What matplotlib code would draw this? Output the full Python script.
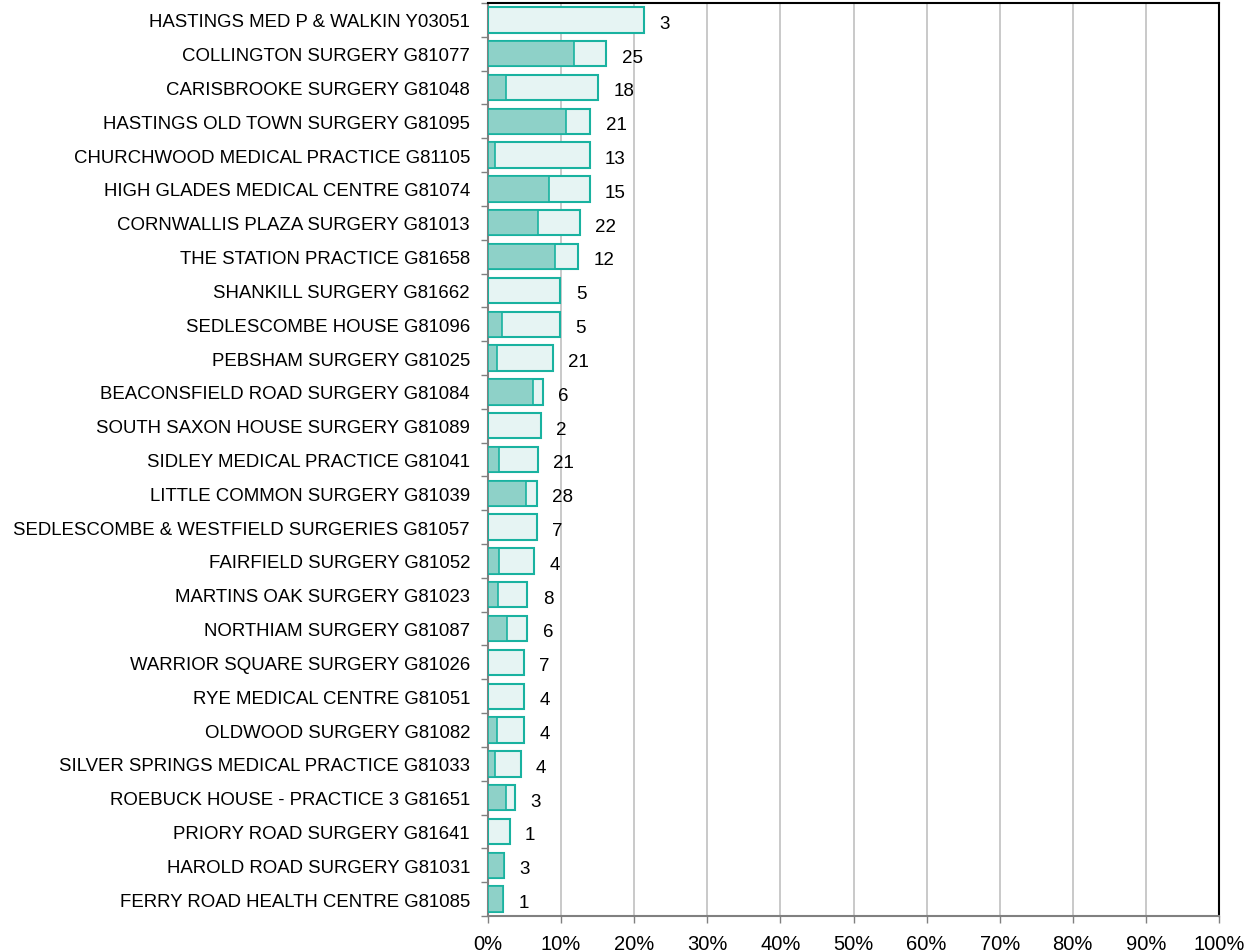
import numpy as np
import matplotlib.pyplot as plt
from matplotlib.ticker import FuncFormatter, FixedLocator

plt.rcParams['font.family'] = ['Liberation Sans', 'DejaVu Sans']

# practice names, top to bottom
practices = [
    "HASTINGS MED P & WALKIN Y03051",
    "COLLINGTON SURGERY G81077",
    "CARISBROOKE SURGERY G81048",
    "HASTINGS OLD TOWN SURGERY G81095",
    "CHURCHWOOD MEDICAL PRACTICE G81105",
    "HIGH GLADES MEDICAL CENTRE G81074",
    "CORNWALLIS PLAZA SURGERY G81013",
    "THE STATION PRACTICE G81658",
    "SHANKILL SURGERY G81662",
    "SEDLESCOMBE HOUSE G81096",
    "PEBSHAM SURGERY G81025",
    "BEACONSFIELD ROAD SURGERY G81084",
    "SOUTH SAXON HOUSE SURGERY G81089",
    "SIDLEY MEDICAL PRACTICE G81041",
    "LITTLE COMMON SURGERY G81039",
    "SEDLESCOMBE & WESTFIELD SURGERIES G81057",
    "FAIRFIELD SURGERY G81052",
    "MARTINS OAK SURGERY G81023",
    "NORTHIAM SURGERY G81087",
    "WARRIOR SQUARE SURGERY G81026",
    "RYE MEDICAL CENTRE G81051",
    "OLDWOOD SURGERY G81082",
    "SILVER SPRINGS MEDICAL PRACTICE G81033",
    "ROEBUCK HOUSE - PRACTICE 3 G81651",
    "PRIORY ROAD SURGERY G81641",
    "HAROLD ROAD SURGERY G81031",
    "FERRY ROAD HEALTH CENTRE G81085",
]

# total percentage (outer bar)
total_pct = [21.4, 16.2, 15.1, 14.0, 13.9, 13.9, 12.6, 12.3, 9.9, 9.85,
             8.85, 7.5, 7.2, 6.8, 6.65, 6.65, 6.35, 5.4, 5.4, 4.9,
             4.9, 4.9, 4.45, 3.7, 2.95, 2.2, 2.05]

# sub-group percentage (inner darker bar)
inner_pct = [0.0, 11.7, 2.5, 10.7, 1.0, 8.3, 6.8, 9.2, 0.0, 1.9,
             1.2, 6.2, 0.0, 1.55, 5.25, 0.0, 1.55, 1.3, 2.65, 0.0,
             0.0, 1.2, 1.0, 2.45, 0.0, 2.2, 2.05]

# counts shown next to bars
counts = [3, 25, 18, 21, 13, 15, 22, 12, 5, 5, 21, 6, 2, 21, 28, 7, 4, 8, 6, 7,
          4, 4, 4, 3, 1, 3, 1]

teal = '#19B2A0'
light = '#E6F4F3'
mid = '#8ED1C8'

fig = plt.figure(figsize=(12.46, 9.53), dpi=100)
ax = fig.add_axes([488 / 1246, 1 - 917 / 953, 731 / 1246, 913 / 953])

y = np.arange(len(practices))
ax.barh(y, total_pct, height=0.75, color=light, edgecolor=teal, linewidth=1.5, zorder=3)
ax.barh(y, inner_pct, height=0.75, color=mid, edgecolor=teal, linewidth=1.2, zorder=4)

for yi, tot, c in zip(y, total_pct, counts):
    ax.text(tot + 2.1, yi + 0.1, str(c), va='center', ha='left', fontsize=13.5,
            color='black', zorder=5)

ax.set_ylim(len(practices) - 0.5, -0.5)
ax.set_xlim(0, 100)

ax.set_yticks(y)
ax.set_yticklabels(practices, fontsize=13.4)
ax.tick_params(axis='y', which='major', length=0, pad=13)
ax.yaxis.set_minor_locator(FixedLocator(np.arange(-0.5, len(practices), 1)))
ax.tick_params(axis='y', which='minor', length=5, width=1, color='#808080', direction='out')

ax.set_xticks(np.arange(0, 101, 10))
ax.xaxis.set_major_formatter(FuncFormatter(lambda v, p: f"{int(v)}%"))
ax.tick_params(axis='x', length=5, width=1, color='#808080', labelsize=14.5, pad=8)

ax.grid(axis='x', color='#C0C0C0', linewidth=1.2, zorder=0)
ax.set_axisbelow(True)

ax.spines['left'].set_color('#808080')
ax.spines['bottom'].set_color('#808080')
ax.spines['left'].set_linewidth(1.5)
ax.spines['bottom'].set_linewidth(1.5)
ax.spines['top'].set_color('black')
ax.spines['right'].set_color('black')
ax.spines['top'].set_linewidth(1.5)
ax.spines['right'].set_linewidth(1.5)

fig.savefig('out.png', dpi=100)
